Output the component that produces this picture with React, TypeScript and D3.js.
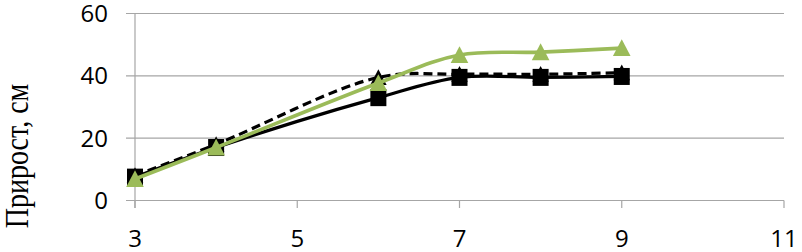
import React from "react";
import * as d3 from "d3";

const xValues = [3, 4, 6, 7, 8, 9];
const seriesSolid = [7.5, 17, 33, 39.5, 39.5, 39.8];
const seriesDashed = [8, 18, 39.5, 40.5, 40.5, 41];
const seriesGreen = [6.9, 17, 37.7, 46.7, 47.6, 48.9];
const xTicks = [3, 5, 7, 9, 11];
const yTicks = [0, 20, 40, 60];
const yLabel = "Прирост, см";

const W = 802;
const H = 252;
const GREEN = "#9BBB59";

export default function App() {
  const x = d3.scaleLinear().domain([3, 11]).range([135, 784]);
  const y = d3.scaleLinear().domain([0, 60]).range([200.5, 13.5]);
  const line = (vals: number[]) =>
    d3
      .line<number>()
      .x((_, i) => x(xValues[i]))
      .y((v) => y(v))
      .curve(d3.curveCatmullRom.alpha(0.5))(vals) || "";
  const tri = (cx: number, cy: number, s: number) =>
    `M${cx},${cy - s * 0.55} L${cx + s * 0.55},${cy + s * 0.5} L${cx - s * 0.55},${cy + s * 0.5} Z`;

  return (
    <svg
      width={W}
      height={H}
      style={{ position: "absolute", left: 0, top: 0, display: "block", background: "#fff" }}
    >
      {yTicks.map((t) => (
        <line key={"g" + t} x1={126} x2={784} y1={y(t)} y2={y(t)} stroke="#a6a6a6" strokeWidth={1.2} />
      ))}
      <line x1={x(3)} x2={x(3)} y1={y(60)} y2={208} stroke="#a6a6a6" strokeWidth={1.2} />
      {xTicks.map((t) => (
        <line key={"xt" + t} x1={x(t)} x2={x(t)} y1={y(0)} y2={208} stroke="#a6a6a6" strokeWidth={1.2} />
      ))}
      {yTicks.map((t) => (
        <text
          key={"yl" + t}
          x={108}
          y={y(t)}
          dy="0.36em"
          textAnchor="end"
          fontFamily="'Open Sans', sans-serif"
          fontSize={24}
          fill="#000"
        >
          {t}
        </text>
      ))}
      {xTicks.map((t) => (
        <text
          key={"xl" + t}
          x={x(t)}
          y={238}
          dy="0.36em"
          textAnchor="middle"
          fontFamily="'Open Sans', sans-serif"
          fontSize={24}
          fill="#000"
        >
          {t}
        </text>
      ))}
      <text
        transform={`translate(28,156) rotate(-90) scale(1,1.22)`}
        textAnchor="middle"
        fontFamily="'Liberation Serif', 'Times New Roman', serif"
        fontSize={28}
        fill="#000"
      >
        {yLabel}
      </text>

      <path d={line(seriesDashed)} fill="none" stroke="#000" strokeWidth={3.2} strokeDasharray="9,5" />
      {seriesDashed.map((v, i) => (
        <path key={"dt" + i} d={tri(x(xValues[i]), y(v), 15)} fill="#000" />
      ))}
      <path d={line(seriesSolid)} fill="none" stroke="#000" strokeWidth={3.2} />
      {seriesSolid.map((v, i) => (
        <rect key={"sq" + i} x={x(xValues[i]) - 8} y={y(v) - 8.5} width={16} height={17} fill="#000" />
      ))}
      <path d={line(seriesGreen)} fill="none" stroke={GREEN} strokeWidth={3.6} />
      {seriesGreen.map((v, i) => (
        <path key={"gt" + i} d={tri(x(xValues[i]), y(v), 16)} fill={GREEN} />
      ))}
    </svg>
  );
}
